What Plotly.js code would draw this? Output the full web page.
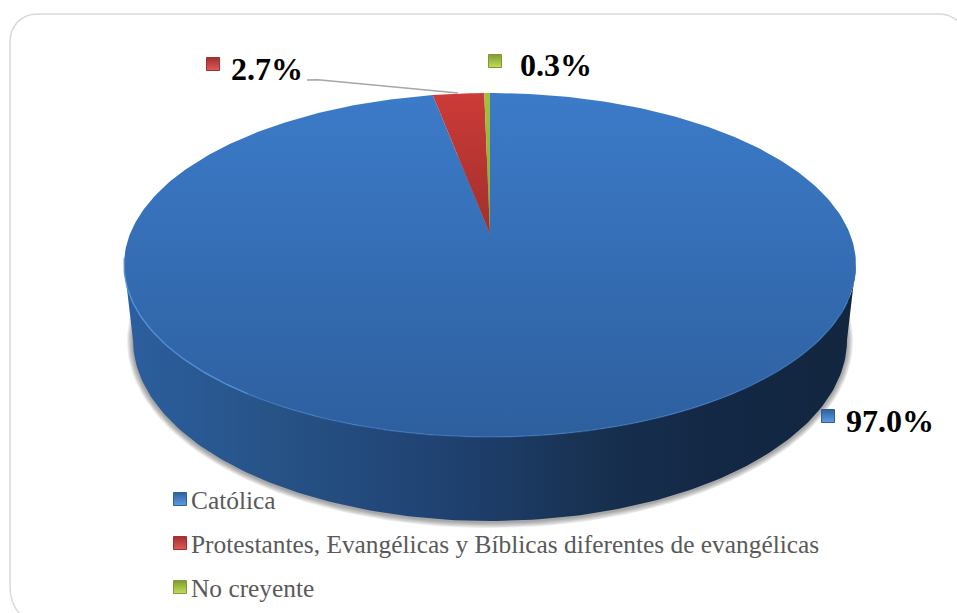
<!DOCTYPE html>
<html>
<head>
<meta charset="utf-8">
<script src="https://cdn.plot.ly/plotly-3.0.1.min.js"></script>
<style>html,body{margin:0;padding:0;background:#fff;overflow:hidden}#chart{width:957px;height:613px;overflow:hidden}</style>
</head>
<body>
<div id="chart"></div>
<script>
// Data, clockwise from 12 o'clock
var categories = ['Católica', 'Protestantes, Evangélicas y Bíblicas diferentes de evangélicas', 'No creyente'];
var values = [97.0, 2.7, 0.3];

// Styles
var topGradients = [['#3c7bc9', '#2d5f9e'], ['#cc3b37', '#a12f2d'], ['#a2c23d', '#8aa636']];
var swatchDark = ['#2f6099', '#a03030', '#7f9a34'];
var swatchLight = ['#5b9ce6', '#e05a58', '#c0de55'];

// Placement of the value labels, in page pixels
var swatchX = [828, 213, 495];
var swatchY = [416, 64, 61];
var labelX = [890, 267, 556];
var labelY = [421, 69, 65];

// Drawing surface is a little taller than the window so the legend never squeezes the plot
var W = 957, H = 650;

// Perspective disc: maps an angle on the pie to the page
var cx = 490, apexY = 234, A = 166.4, B = 360, k = 0.18;
function rimX(t) { return cx + B * Math.sin(t) / (1 + k * Math.cos(t)); }
function rimY(t) { return apexY - A * Math.cos(t) / (1 + k * Math.cos(t)); }
function rad(p) { return p / 100 * 2 * Math.PI; }

// Bottom edge of the wall
var botCY = 340, botRX = 357, botRY = 181;

function range(a, b, n) { var o = []; for (var i = 0; i <= n; i++) o.push(a + (b - a) * i / n); return o; }

var traces = [];
function poly(x, y, extra) {
  traces.push(Object.assign({x: x, y: y, type: 'scatter', mode: 'lines', fill: 'toself',
    line: {width: 0}, hoverinfo: 'skip', showlegend: false}, extra));
}

// Soft shadow under the wall
[6, 5, 4, 3, 2, 1].forEach(function (g) {
  var ts = range(0, 2 * Math.PI, 180);
  poly(ts.map(function (t) { return cx + (botRX + g) * Math.cos(t); }),
       ts.map(function (t) { return botCY + 1 + (botRY + g) * Math.sin(t); }),
       {fillcolor: 'rgba(60,60,60,0.09)'});
});

// Wall
var frontT = range(100, 260, 160).map(function (d) { return d * Math.PI / 180; });
var backT = range(Math.PI, 0, 160);
poly(frontT.map(rimX).concat(backT.map(function (t) { return cx + botRX * Math.cos(t); })),
     frontT.map(rimY).concat(backT.map(function (t) { return botCY + botRY * Math.sin(t); })),
     {fillgradient: {type: 'horizontal', start: 124, stop: 856,
       colorscale: [[0, '#2c5f9f'], [0.2, '#275387'], [0.45, '#1f4170'], [0.65, '#17304f'], [0.8, '#132845'], [1, '#12263f']]}});

// Slices
var cum = 0;
values.forEach(function (v, i) {
  var ts = range(rad(cum), rad(cum + v), Math.max(2, Math.round(v * 4)));
  cum += v;
  poly([cx].concat(ts.map(rimX), [cx]), [apexY].concat(ts.map(rimY), [apexY]),
    {fillgradient: {type: 'vertical', start: 93, stop: i === 0 ? 437 : 235,
      colorscale: [[0, topGradients[i][0]], [1, topGradients[i][1]]]}});
});

// Light edge on the front of the disc
var edgeT = range(112, 215, 100).map(function (d) { return d * Math.PI / 180; });
traces.push({x: edgeT.map(rimX), y: edgeT.map(rimY), type: 'scatter', mode: 'lines',
  line: {color: 'rgba(70,135,215,0.45)', width: 1.5}, hoverinfo: 'skip', showlegend: false});
var edgeL = range(215, 262, 60).map(function (d) { return d * Math.PI / 180; });
traces.push({x: edgeL.map(rimX), y: edgeL.map(rimY), type: 'scatter', mode: 'lines',
  line: {color: 'rgba(85,150,225,0.8)', width: 1.5}, hoverinfo: 'skip', showlegend: false});

// Swatches next to the labels; these also feed the legend
categories.forEach(function (c, i) {
  traces.push({x: [swatchX[i]], y: [swatchY[i]], name: c, type: 'scatter', mode: 'markers',
    legendgroup: 'g' + i, hoverinfo: 'skip',
    marker: {symbol: 'square', size: 13, color: swatchDark[i],
      gradient: {type: 'vertical', color: swatchLight[i]},
      line: {color: swatchDark[i], width: 1}}});
});

var annotations = values.map(function (v, i) {
  return {x: labelX[i], y: labelY[i], xref: 'x', yref: 'y', showarrow: false,
    text: '<b>' + v.toFixed(1) + '%</b>',
    font: {family: 'Liberation Serif', size: 32, color: '#000'}, xanchor: 'center', yanchor: 'middle'};
});

var layout = {
  width: W, height: H, margin: {l: 0, r: 0, t: 0, b: 0},
  paper_bgcolor: '#fff', plot_bgcolor: '#fff',
  xaxis: {range: [0, W], visible: false, fixedrange: true},
  yaxis: {range: [H, 0], visible: false, fixedrange: true},
  annotations: annotations,
  legend: {x: 151 / W, y: 1 - 476 / H, xanchor: 'left', yanchor: 'top', traceorder: 'grouped',
    tracegroupgap: 8, bgcolor: 'rgba(0,0,0,0)', itemclick: false, itemdoubleclick: false,
    font: {family: 'Liberation Serif', size: 25.4, color: '#595959'}},
  shapes: [
    {type: 'path', xref: 'x', yref: 'y', layer: 'below',
     path: 'M24,618 C14,610 10,600 10,586 L10,42 C10,25 22,14 38,14 L940,14 C952,14 966,24 970,40',
     line: {color: '#d9d9d9', width: 1.5}, fillcolor: 'rgba(0,0,0,0)'},
    {type: 'path', xref: 'x', yref: 'y', layer: 'above',
     path: 'M307,80 L318,79.7 L458,93',
     line: {color: '#a6a6a6', width: 1.5}, fillcolor: 'rgba(0,0,0,0)'}
  ]
};

Plotly.newPlot('chart', traces, layout, {staticPlot: true, displayModeBar: false}).then(function () {
  // Tighten the gap between legend swatch and text
  document.querySelectorAll('.legendsymbols').forEach(function (s) { s.setAttribute('transform', 'translate(9,0)'); });
});
</script>
</body>
</html>
